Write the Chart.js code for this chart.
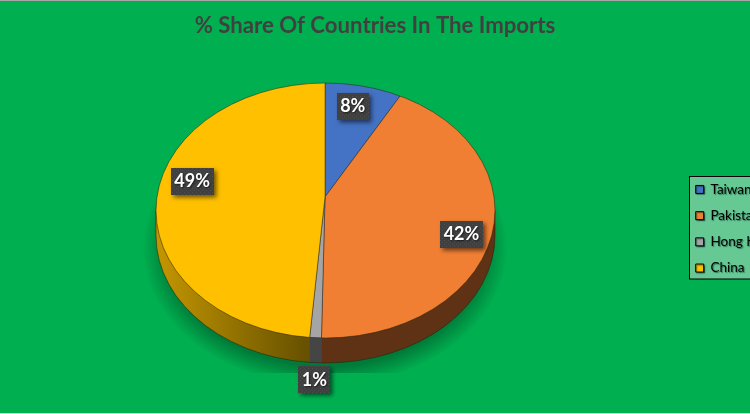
<!DOCTYPE html>
<html>
<head>
<meta charset="utf-8">
<style>
    html, body { margin: 0; padding: 0; background: #00b050; overflow: hidden; }
    #pie-graph { display: block; }
</style>
<script src="https://cdn.jsdelivr.net/npm/chart.js@4/dist/chart.umd.min.js"></script>
</head>
<body>
<canvas id="pie-graph" width="750" height="414"></canvas>
<script>
const chartTitle = '% Share Of Countries In The Imports'
const countries = ['Taiwan', 'Pakistan', 'Hong Kong', 'China']
const shares = [8.1, 42.2, 1.0, 48.7]

const sliceColors = ['#4472c4', '#f07f33', '#a5a5a5', '#ffc000']
const wallColors = ['#2a4478', '#5f3115', '#454545', '#c49600']
const wallYellowDark = '#655000'

// the tilted disc: outline ellipse, apex of the slices, wall depth
const disc = { x: 325.5, y: 210.5, rx: 169.5, ry: 127.5, depth: 25, apexX: 325, apexY: 197, tilt: 0.75, reach: 215 }

// labels sit on a ring around the apex, then get nudged like in the original
const labelRing = 130
const labelShift = [[-5, 3.5], [11, 11.6], [-4, 85.5], [-3, -12]]

function rayHit(a) {
    // where a slice edge leaves the tilted disc
    let dx = Math.cos(a), dy = Math.sin(a) * disc.tilt
    let ox = (disc.apexX - disc.x) / disc.rx, oy = (disc.apexY - disc.y) / disc.ry
    let ux = dx / disc.rx, uy = dy / disc.ry
    let qa = ux * ux + uy * uy
    let qb = 2 * (ox * ux + oy * uy)
    let qc = ox * ox + oy * oy - 1
    let t = (-qb + Math.sqrt(qb * qb - 4 * qa * qc)) / (2 * qa)
    return { x: disc.apexX + t * dx, y: disc.apexY + t * dy }
}

function hasAngle(el, a) {
    let s = el.startAngle, e = el.endAngle
    return (a >= s && a <= e) || (a + Math.PI * 2 >= s && a + Math.PI * 2 <= e)
}

function wallPath(ctx) {
    ctx.beginPath()
    ctx.ellipse(disc.x, disc.y + disc.depth, disc.rx, disc.ry, 0, 0, Math.PI)
    ctx.lineTo(disc.x - disc.rx, disc.y)
    ctx.lineTo(disc.x + disc.rx, disc.y)
    ctx.closePath()
}

function discPath(ctx) {
    ctx.beginPath()
    ctx.ellipse(disc.x, disc.y, disc.rx, disc.ry, 0, 0, Math.PI * 2)
}

function dotPattern(ctx) {
    let tile = document.createElement('canvas')
    tile.width = 4
    tile.height = 4
    let t = tile.getContext('2d')
    t.fillStyle = '#404040'
    t.fillRect(0, 0, 4, 4)
    t.fillStyle = '#4d4d4d'
    t.fillRect(0, 0, 1, 1)
    t.fillRect(2, 2, 1, 1)
    return ctx.createPattern(tile, 'repeat')
}

function groundShadow(ctx) {
    // blurred oval under the disc, cut off flat at the bottom
    ctx.save()
    ctx.beginPath()
    ctx.rect(0, 0, 750, 373)
    ctx.clip()
    ctx.translate(325, 248)
    ctx.scale(183, 138)
    let grad = ctx.createRadialGradient(0, 0, 0, 0, 0, 1)
    grad.addColorStop(0, 'rgba(0,70,35,0.5)')
    grad.addColorStop(0.86, 'rgba(0,70,35,0.5)')
    grad.addColorStop(1, 'rgba(0,70,35,0)')
    ctx.fillStyle = grad
    ctx.beginPath()
    ctx.arc(0, 0, 1, 0, Math.PI * 2)
    ctx.fill()
    ctx.restore()
}

const tiltedPie = {
    id: 'tiltedPie',
    afterLayout(chart) {
        // title is centred on the whole picture, not on the pie
        chart.titleBlock.left = 0
        chart.titleBlock.right = 750

        // legend hangs off the right edge of the picture
        let legend = chart.legend
        legend.left = 683
        legend.right = 790
        legend.top = 170
        legend.bottom = 420
        if (!legend.shadowed) {
            let draw = legend.draw
            legend.draw = function () {
                let ctx = chart.ctx
                ctx.save()
                ctx.shadowColor = 'rgba(0,50,40,0.55)'
                ctx.shadowBlur = 1
                ctx.shadowOffsetX = 1
                ctx.shadowOffsetY = 1
                draw.apply(legend, arguments)
                ctx.restore()
            }
            legend.shadowed = true
        }
    },
    beforeDraw(chart) {
        let ctx = chart.ctx
        ctx.save()
        ctx.fillStyle = '#00b050'
        ctx.fillRect(0, 0, 750, 414)
        ctx.fillStyle = '#66c892'
        ctx.strokeStyle = '#000'
        ctx.lineWidth = 1
        ctx.fillRect(689.5, 176.5, 70, 102.5)
        ctx.strokeRect(689.5, 176.5, 70, 102.5)
        ctx.strokeStyle = '#a6a6a6'
        ctx.beginPath()
        ctx.moveTo(0, 0.5)
        ctx.lineTo(750, 0.5)
        ctx.stroke()
        ctx.strokeStyle = '#d0d0d0'
        ctx.beginPath()
        ctx.moveTo(0, 413.5)
        ctx.lineTo(750, 413.5)
        ctx.stroke()
        ctx.restore()
    },
    beforeDatasetsDraw(chart) {
        let ctx = chart.ctx
        let arcs = chart.getDatasetMeta(0).data

        groundShadow(ctx)

        // front wall, one piece per slice that reaches the front
        arcs.forEach((el, i) => {
            let ends = [rayHit(el.startAngle), rayHit(el.endAngle)].filter((p) => p.y > disc.y)
            if (ends.length == 0) return
            let xs = ends.map((p) => p.x)
            let x0 = hasAngle(el, Math.PI) ? disc.x - disc.rx : Math.min(...xs)
            let x1 = hasAngle(el, 0) ? disc.x + disc.rx : Math.max(...xs)
            ctx.save()
            ctx.beginPath()
            ctx.rect(x0, 0, x1 - x0, 414)
            ctx.clip()
            if (hasAngle(el, Math.PI)) {
                let grad = ctx.createLinearGradient(x0, 0, x1, 0)
                grad.addColorStop(0, wallColors[i])
                grad.addColorStop(1, wallYellowDark)
                ctx.fillStyle = grad
            } else {
                ctx.fillStyle = wallColors[i]
            }
            wallPath(ctx)
            ctx.fill()
            ctx.restore()
        })
        ctx.save()
        ctx.strokeStyle = 'rgba(30,30,0,0.7)'
        ctx.lineWidth = 0.7
        wallPath(ctx)
        ctx.stroke()
        ctx.restore()

        // the library draws the slices, squashed and clipped to the disc
        let first = arcs[0]
        let k = disc.reach / first.outerRadius
        ctx.save()
        discPath(ctx)
        ctx.clip()
        ctx.translate(disc.apexX, disc.apexY)
        ctx.scale(k, k * disc.tilt)
        ctx.translate(-first.x, -first.y)
    },
    afterDatasetsDraw(chart) {
        let ctx = chart.ctx
        ctx.restore()

        ctx.save()
        ctx.strokeStyle = 'rgba(40,40,10,0.75)'
        ctx.lineWidth = 0.7
        discPath(ctx)
        ctx.stroke()
        ctx.restore()

        let fill = dotPattern(ctx)
        chart.getDatasetMeta(0).data.forEach((el, i) => {
            let mid = (el.startAngle + el.endAngle) / 2
            let cx = disc.apexX + labelRing * Math.cos(mid) + labelShift[i][0]
            let cy = disc.apexY + labelRing * Math.sin(mid) * disc.tilt + labelShift[i][1]
            let text = Math.round(shares[i]) + '%'

            ctx.save()
            ctx.font = 'bold 18px Lato'
            let w = Math.round(ctx.measureText(text).width) + 7
            let h = 27
            ctx.shadowColor = 'rgba(0,0,0,0.55)'
            ctx.shadowBlur = 4
            ctx.shadowOffsetX = 2.5
            ctx.shadowOffsetY = 2.5
            ctx.fillStyle = fill
            ctx.fillRect(Math.round(cx - w / 2), Math.round(cy - h / 2), w, h)
            ctx.shadowColor = 'rgba(0,0,0,0.6)'
            ctx.shadowBlur = 2
            ctx.shadowOffsetX = 1
            ctx.shadowOffsetY = 1
            ctx.fillStyle = '#fff'
            ctx.textAlign = 'center'
            ctx.textBaseline = 'middle'
            ctx.fillText(text, cx, cy + 0.5)
            ctx.restore()
        })
    }
}

var pieGraph = new Chart(document.getElementById('pie-graph').getContext('2d'), {
    type: 'pie',
    data: {
        labels: countries,
        datasets: [{
            data: shares,
            backgroundColor: sliceColors,
            borderColor: 'rgba(40,40,40,0.75)',
            borderWidth: 0.6,
            clip: false
        }]
    },
    options: {
        responsive: false,
        animation: false,
        layout: { padding: { left: 145, right: 245, top: 0, bottom: 14 } },
        plugins: {
            tooltip: { enabled: false },
            title: {
                display: true,
                text: chartTitle,
                color: '#404040',
                font: { family: 'Lato', size: 22.2, weight: 'bold' },
                padding: { top: 13, bottom: 10 }
            },
            legend: {
                display: true,
                position: 'chartArea',
                align: 'start',
                labels: {
                    boxWidth: 8,
                    boxHeight: 8,
                    padding: 12.7,
                    color: '#14302a',
                    font: { family: 'Lato', size: 13.5 },
                    generateLabels(chart) {
                        return countries.map((name, i) => {
                            return {
                                text: name,
                                fillStyle: sliceColors[i],
                                strokeStyle: '#000',
                                lineWidth: 1,
                                index: i
                            }
                        })
                    }
                }
            }
        }
    },
    plugins: [tiltedPie]
});
</script>
</body>
</html>
